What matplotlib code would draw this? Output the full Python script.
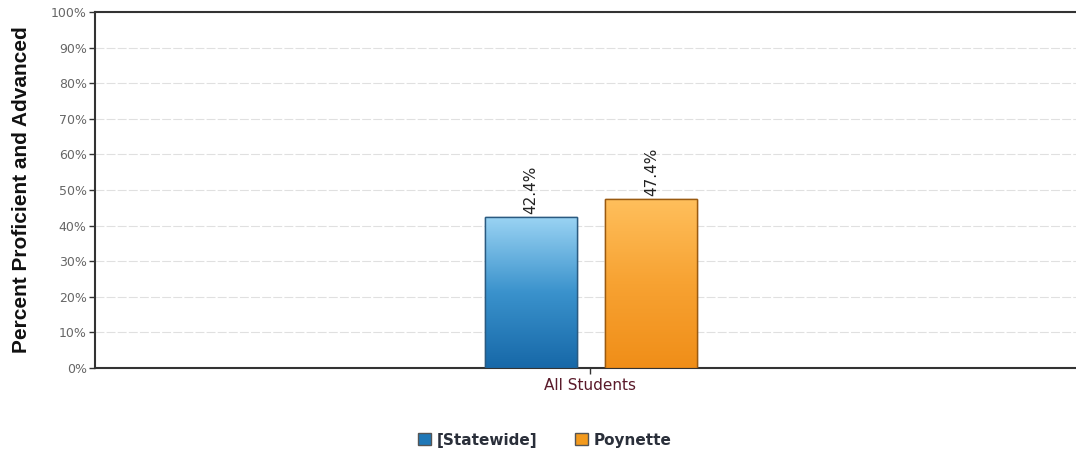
import numpy as np
import matplotlib
matplotlib.use("Agg")
import matplotlib.pyplot as plt
from matplotlib.colors import LinearSegmentedColormap
from matplotlib.patches import Patch
from matplotlib.font_manager import FontProperties

CATEGORY = "All Students"
SERIES = ["[Statewide]", "Poynette"]
VALUES = [42.4, 47.4]
OFFSETS = [-0.0596, 0.062]
Y_TICKS = list(range(0, 101, 10))

TOP_COLORS = ["#9ad3f3", "#ffbf5c"]
MID_COLORS = ["#3a92cc", "#f7a232"]
BOTTOM_COLORS = ["#1768a8", "#f08e18"]
EDGE_COLORS = ["#2a5a80", "#9a5a10"]

fig = plt.figure(figsize=(10.76, 4.53), dpi=100)
ax = fig.add_axes([95 / 1076, 85 / 453, 990 / 1076, 356 / 453])

width = 0.093
bars = ax.bar(OFFSETS, VALUES, width=width, color=BOTTOM_COLORS,
              edgecolor=EDGE_COLORS, linewidth=1.0, zorder=3)

grad = np.linspace(0, 1, 256).reshape(-1, 1)
for bar, top, mid, bottom in zip(bars, TOP_COLORS, MID_COLORS, BOTTOM_COLORS):
    cmap = LinearSegmentedColormap.from_list("g", [bottom, mid, top])
    x0, y0 = bar.get_x(), bar.get_y()
    im = ax.imshow(grad, cmap=cmap, aspect="auto", origin="lower",
                   extent=(x0, x0 + bar.get_width(), y0, y0 + bar.get_height()),
                   zorder=3.5)
    im.set_clip_path(bar)
    ax.bar(bar.get_x() + bar.get_width() / 2, bar.get_height(), width=bar.get_width(),
           fill=False, edgecolor=bar.get_edgecolor(), linewidth=1.0, zorder=4)

for x, v in zip(OFFSETS, VALUES):
    ax.text(x, v + 0.8, f"{v}%", rotation=90, ha="center", va="bottom",
            fontsize=11, color="#222222", zorder=5)

ax.set_xlim(-0.5, 0.5)
ax.set_ylim(0, 100)
ax.set_yticks(Y_TICKS)
ax.set_yticklabels([f"{t}%" for t in Y_TICKS], fontsize=9, color="#666666")
ax.set_xticks([0])
ax.set_xticklabels([CATEGORY], fontsize=11, color="#5a1a2a")
ax.tick_params(axis="y", length=4, width=1, color="#333333", pad=2)
ax.tick_params(axis="x", length=4, width=1, color="#333333", pad=3)

ax.grid(axis="y", color="#e0e0e0", linewidth=0.8, linestyle=(0, (8, 2)), zorder=0)
ax.spines["right"].set_visible(False)
for s in ["top", "left", "bottom"]:
    ax.spines[s].set_color("#333333")
    ax.spines[s].set_linewidth(1.5)

label_font = FontProperties(family="Liberation Sans", weight="bold", size=15)
ax.set_ylabel("Percent Proficient and Advanced", fontproperties=label_font,
              color="#111111", labelpad=14)

handles = [Patch(facecolor=c, edgecolor="#555555", linewidth=1.0) for c in ["#1f78b8", "#f39a1d"]]
fig.legend(handles, SERIES, loc="center", bbox_to_anchor=(545 / 1076, 1 - 440 / 453),
           ncol=2, frameon=False, handlelength=0.8, handleheight=0.8,
           handletextpad=0.4, columnspacing=2.5,
           prop={"weight": "bold", "size": 11})
for t in fig.legends[0].get_texts():
    t.set_color("#2a2f3a")

fig.savefig("out.png", dpi=100, facecolor="white")
